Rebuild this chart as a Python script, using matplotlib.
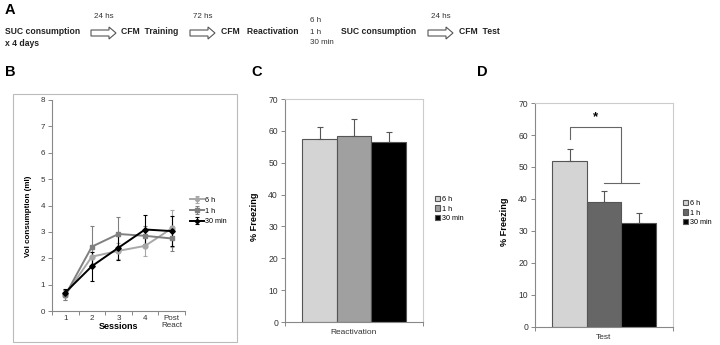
import matplotlib
matplotlib.use('Agg')
import matplotlib.pyplot as plt
import numpy as np
from matplotlib.patches import Rectangle, Polygon

plt.rcParams['font.family'] = ['Liberation Sans', 'DejaVu Sans']

W, H = 720, 345

# panel B data
sessions = ['1', '2', '3', '4', 'Post\nReact']
groups = ['6 h', '1 h', '30 min']
vol_6h = [0.60, 2.06, 2.28, 2.47, 3.13]
vol_1h = [0.60, 2.44, 2.92, 2.85, 2.75]
vol_30m = [0.70, 1.70, 2.40, 3.09, 3.03]
err_6h = [0.20, 0.35, 0.30, 0.40, 0.70]
err_1h = [0.20, 0.78, 0.65, 0.37, 0.47]
err_30m = [0.15, 0.55, 0.45, 0.55, 0.57]

# panel C data
react_freeze = [57.4, 58.4, 56.5]
react_err = [3.7, 5.3, 3.1]

# panel D data
test_freeze = [51.8, 39.2, 32.6]
test_err = [3.8, 3.2, 3.1]


def fx(x):
    return x / W


def fy(y):
    return 1 - y / H


def axes_px(fig, left, top, right, bottom):
    return fig.add_axes([fx(left), fy(bottom), (right - left) / W, (bottom - top) / H])


fig = plt.figure(figsize=(7.2, 3.45), dpi=100)

# ---------- panel A: protocol timeline ----------
def block_arrow(x0, x1, yc):
    hx = x1 - 7
    pts = [(x0, yc - 3), (hx, yc - 3), (hx, yc - 6), (x1, yc), (hx, yc + 6),
           (hx, yc + 3), (x0, yc + 3)]
    pts = [(fx(a), fy(b)) for a, b in pts]
    fig.patches.append(Polygon(pts, closed=True, transform=fig.transFigure,
                               facecolor='white', edgecolor='#555555', lw=0.8))

fig.text(fx(5), fy(10), 'A', fontsize=10.5, fontweight='bold', va='center')
bold = dict(fontsize=6.2, fontweight='bold', va='center', color='#222222')
small = dict(fontsize=5.8, va='center', color='#333333')
fig.text(fx(5), fy(32), 'SUC consumption', **bold)
fig.text(fx(5), fy(43), 'x 4 days', **bold)
fig.text(fx(94), fy(17), '24 hs', **small)
block_arrow(91, 116, 33)
fig.text(fx(121), fy(32), 'CFM  Training', **bold)
fig.text(fx(193), fy(17), '72 hs', **small)
block_arrow(190, 215, 33)
fig.text(fx(221), fy(32), 'CFM   Reactivation', **bold)
fig.text(fx(310), fy(21), '6 h', **small)
fig.text(fx(310), fy(32), '1 h', **small)
fig.text(fx(310), fy(43), '30 min', **small)
fig.text(fx(341), fy(32), 'SUC consumption', **bold)
fig.text(fx(431), fy(17), '24 hs', **small)
block_arrow(428, 453, 33)
fig.text(fx(459), fy(32), 'CFM  Test', **bold)

fig.text(fx(5), fy(72), 'B', fontsize=10.5, fontweight='bold', va='center')
fig.text(fx(251), fy(72), 'C', fontsize=10.5, fontweight='bold', va='center')
fig.text(fx(477), fy(72), 'D', fontsize=10.5, fontweight='bold', va='center')

axis_col = '#888888'
light_col = '#cccccc'


def style_axes(ax, size):
    for s in ['left', 'bottom']:
        ax.spines[s].set_color(axis_col)
        ax.spines[s].set_linewidth(0.8)
    ax.tick_params(axis='both', labelsize=size, colors='#333333', length=3, width=0.7,
                   color=axis_col, pad=2)


# ---------- panel B: consumption over sessions ----------
fig.patches.append(Rectangle((fx(13), fy(342)), (237 - 13) / W, (342 - 94) / H,
                             transform=fig.transFigure, fill=False,
                             edgecolor='#bbbbbb', lw=0.8))
axB = axes_px(fig, 52, 100, 185, 311)
style_axes(axB, 5.8)
axB.spines['top'].set_visible(False)
axB.spines['right'].set_visible(False)
x = np.arange(len(sessions))
series = [(vol_6h, err_6h, '#a8a8a8', 'o', 3.5),
          (vol_1h, err_1h, '#808080', 's', 3.5),
          (vol_30m, err_30m, '#000000', 'D', 2.8)]
for (vals, errs, col, mk, ms), lab in zip(series, groups):
    axB.errorbar(x, vals, yerr=errs, color=col, marker=mk, ms=ms, lw=1.4,
                 elinewidth=0.8, capsize=1.5, capthick=0.8, ecolor=col, label=lab)
axB.set_xlim(-0.5, len(sessions) - 0.5)
axB.set_ylim(0, 8)
axB.set_yticks(range(0, 9))
axB.set_xticks(x)
axB.set_xticklabels(sessions, linespacing=1.0)
axB.set_xticks(np.arange(-0.5, len(sessions)), minor=True)
axB.tick_params(axis='x', which='major', length=0, pad=3)
axB.tick_params(axis='x', which='minor', length=3, width=0.7, color=axis_col)
axB.set_xlabel('Sessions', fontsize=6.5, fontweight='bold', labelpad=-5)
axB.set_ylabel('Vol consumption (ml)', fontsize=5.8, fontweight='bold')
axB.yaxis.set_label_coords(-0.15, 0.45)
axB.legend(loc='center left', bbox_to_anchor=(fx(183), fy(211)),
           bbox_transform=fig.transFigure, frameon=False, fontsize=5.2,
           handlelength=2.0, handletextpad=0.2, labelspacing=0.5,
           markerscale=0.8)


def bar_panel(ax, vals, errs, colors, label, legend_xy):
    style_axes(ax, 6.2)
    ax.spines['top'].set_color(light_col)
    ax.spines['right'].set_color(light_col)
    ax.spines['top'].set_linewidth(0.8)
    ax.spines['right'].set_linewidth(0.8)
    pos = np.arange(len(vals)) - 1
    bars = ax.bar(pos, vals, width=1.0, color=colors, edgecolor='#555555', lw=0.8)
    ax.errorbar(pos, vals, yerr=[np.zeros(len(errs)), errs], fmt='none',
                ecolor='#555555', elinewidth=0.8, capsize=2, capthick=0.8)
    ax.set_xlim(-2, 2)
    ax.set_ylim(0, 70)
    ax.set_yticks(range(0, 71, 10))
    ax.set_xticks([-2, 2])
    ax.set_xticklabels(['', ''])
    ax.set_xlabel(label, fontsize=6, color='#333333', labelpad=0)
    ax.set_ylabel('% Freezing', fontsize=6.6, fontweight='bold')
    ax.yaxis.set_label_coords(-0.19, 0.47)
    ax.legend(bars, groups, loc='center left', bbox_to_anchor=legend_xy,
              bbox_transform=fig.transFigure, frameon=False, fontsize=5.2,
              handlelength=0.7, handleheight=0.7, handletextpad=0.3,
              labelspacing=0.3, borderaxespad=0)


# ---------- panel C: reactivation ----------
axC = axes_px(fig, 285, 99, 423, 322)
bar_panel(axC, react_freeze, react_err, ['#d4d4d4', '#a0a0a0', '#000000'],
          'Reactivation', (fx(432), fy(209)))

# ---------- panel D: test ----------
axD = axes_px(fig, 535, 103, 673, 327)
bar_panel(axD, test_freeze, test_err, ['#d4d4d4', '#666666', '#000000'],
          'Test', (fx(680), fy(213)))
axD.plot([-1, -1, 0.5, 0.5], [58.7, 62.4, 62.4, 45.1], color='#666666', lw=0.8)
axD.plot([0, 1], [45.1, 45.1], color='#666666', lw=0.8)
axD.text(-0.25, 65.5, '*', ha='center', va='center', fontsize=9.5, fontweight='bold')

fig.savefig('out.png', dpi=100)
